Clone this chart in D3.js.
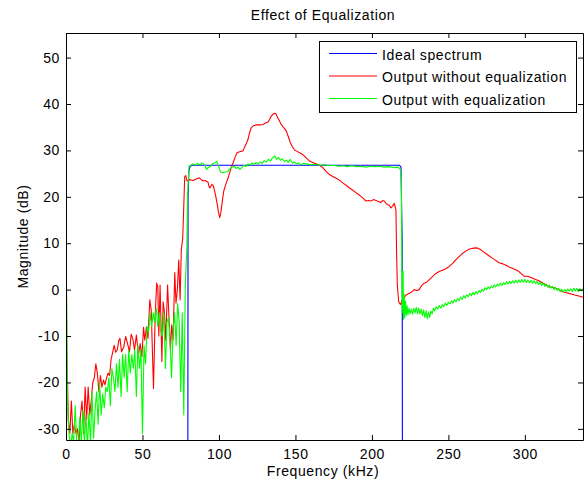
<!DOCTYPE html>
<html>
<head>
<meta charset="utf-8">
<script src="https://cdn.jsdelivr.net/npm/d3@7"></script>
<style>
  body { margin: 0; background: #fff; }
  text { font-family: "Liberation Sans", Arial, sans-serif; font-size: 14px; letter-spacing: 0.6px; fill: #000; }
</style>
</head>
<body>
<svg id="chart" width="584" height="485"></svg>
<script>
// axis setup
const xDomain = [0, 338];
const yDomain = [-32.4, 55.3];
const xTicks = [0, 50, 100, 150, 200, 250, 300];
const yTicks = [-30, -20, -10, 0, 10, 20, 30, 40, 50];

const seriesNames = ["Ideal spectrum", "Output without equalization", "Output with equalization"];
const seriesColors = ["#0000ff", "#ff0000", "#00ff00"];

// ideal: flat passband 80..220 kHz
const idealPts = [
  [0, -60], [79.6, -60], [79.8, 20], [80.3, 25.5], [81, 26.5], [82, 26.8],
  [218, 26.8], [219, 26.4], [219.8, 10], [220, -60], [338, -60]
];

// output without equalization
const redPts = [
  [0, 19.5], [0.5, -12], [1.5, -28], [2.5, -31], [3.5, -24], [4.5, -31], [5.5, -29], [6.5, -31],
  [7.5, -30], [8.5, -33], [9.5, -27], [10.5, -24], [11.5, -31], [12.5, -21], [13.5, -28], [14.5, -21],
  [15.5, -27], [16.5, -24], [17.5, -20], [18.5, -19], [19.5, -16], [20.5, -18], [21.5, -22], [22.5, -18.5],
  [23.5, -21], [24.5, -19.5], [25.5, -20.5], [26.5, -19], [27.5, -18], [28.5, -18.5], [29.5, -15], [30.5, -13.5],
  [31.5, -12], [32.5, -13.5], [33.5, -13], [34.5, -11], [35.3, -10.5], [36.3, -13.4], [37.8, -12.3], [39, -10.1],
  [40.2, -11.6], [41.5, -13.4], [42.6, -9.6], [43.7, -10.6], [44.8, -13], [46, -9.8], [47.4, -14.1], [48.5, -11.6],
  [49.6, -14.5], [50.7, -8.1], [51.5, -10.9], [52.6, -8], [53.6, -10.5], [54.8, -2.2], [55.7, -4.3], [57.2, -21.3],
  [58.3, -5.5], [59.3, 1.4], [60, 0.6], [60.7, -10], [61.5, 1], [62.7, -15.5], [63.5, -2.6], [64.3, -4.7],
  [65.2, -10.9], [66.4, 1], [67.4, -6.5], [68.3, -13], [69.1, -7.6], [70, -10.9], [71.1, 3.7], [71.9, -2.9],
  [72.8, 0], [73.7, 6.4], [74.6, -2.2], [75.4, 8.6], [76.3, 11], [77, 18], [77.6, 24.3], [78.3, 24.6],
  [79.1, 23.4], [80, 23.6], [81.3, 23.7], [83, 23.5], [85, 23.8], [87, 24.1], [88.5, 23.7], [89.6, 23.4],
  [91, 23.5], [92.8, 23.2], [93.5, 22.2], [94, 21.9], [95.5, 22.7], [96.3, 22.4], [97.2, 21.2], [98, 20],
  [98.7, 18.7], [99.6, 16.8], [100.5, 15.5], [101.2, 16.5], [101.8, 18], [102.5, 19.8], [103.1, 21.2], [104, 22.2],
  [104.8, 23], [106, 24.1], [107, 25.2], [108, 26.3], [109.2, 27.3], [110.5, 28.5], [111.8, 29.5], [113.5, 29.7],
  [115.7, 29.9], [117.5, 31.2], [119, 32.4], [120, 33.8], [121.1, 34.9], [122.5, 35.3], [124.4, 35.5], [126.5, 35.5],
  [128.7, 35.6], [130.5, 35.9], [132, 36.1], [133, 36.6], [134.2, 37.4], [135.3, 37.8], [136.4, 38], [137.2, 37.9],
  [137.9, 37.4], [139.3, 36.5], [140.7, 35.6], [142.3, 34.9], [144, 34.2], [145.3, 33], [146.6, 31.7], [148, 30.8],
  [149.4, 30.1], [150.5, 29.9], [152.7, 29.5], [154.8, 29.1], [157, 28.4], [159.2, 27.7], [161.3, 27.4], [163.5, 27.1],
  [165.7, 26.8], [167.9, 26.3], [170, 25.5], [172.2, 24.8], [174.4, 24.4], [176.6, 24], [178.8, 23.6], [180.9, 23],
  [183.1, 22.5], [185.3, 21.9], [187.5, 21.4], [189.6, 20.9], [191.3, 20.5], [192.9, 20.1], [194.5, 19.6], [196.1, 19.1],
  [197.8, 19.2], [199.4, 19.1], [201, 19.4], [202.7, 19.2], [204.3, 19], [205.9, 18.8], [207, 19.2], [208.1, 19.1],
  [209.2, 18.6], [210.3, 18.3], [211.4, 18.2], [212.4, 17.6], [213.5, 18], [214.6, 18.6], [215.2, 17.8], [215.7, 17.3],
  [216.1, 8.6], [216.6, 1], [217.5, -2.6], [218.6, -3.2], [220.1, -2.2], [222.2, -1.2], [224.4, -0.8], [226, -0.5],
  [227.6, 0], [229.3, -0.2], [230.9, 0], [232.5, 0.9], [234.2, 1.4], [235.8, 1.6], [237.4, 2.1], [239.6, 2.8],
  [241.8, 3.5], [244, 3.9], [246.1, 4.2], [248.3, 4.5], [250.5, 5], [252.6, 5.6], [254.8, 6.4], [257, 7.1],
  [259.2, 7.8], [261.3, 8.3], [263.5, 8.7], [265.7, 8.9], [267.9, 9], [269.5, 8.9], [271.1, 8.6], [272.8, 8.2],
  [274.4, 7.8], [276.5, 7.3], [278.7, 6.8], [280.9, 6.3], [283.1, 5.8], [285.3, 5.6], [287.4, 5.3], [289.6, 4.9],
  [291.8, 4.6], [294, 4.3], [296.1, 3.9], [297.8, 3.4], [299.4, 2.9], [301, 2.9], [302.6, 2.8], [304.8, 2.5],
  [307, 2.2], [309.2, 1.9], [311.3, 1.5], [313.5, 1.1], [315.7, 0.6], [317.8, 0.5], [320, 0.3], [322.2, 0],
  [324.4, -0.4], [326.5, -0.6], [328.7, -0.8], [330.9, -1], [333.1, -1.2], [334.7, -1.3], [336.3, -1.5], [338, -1.6]
];

// output with equalization
const greenPts = [
  [0, 8], [0.5, -5], [1, -25], [2, -31], [3, -34], [4, -31], [5, -33], [6, -25],
  [7, -33], [8, -34], [9, -27.5], [10, -33], [11, -26], [12, -33], [13, -27], [14, -34],
  [15, -26.5], [16, -33], [17, -22], [18, -32], [19, -26], [20, -22], [21, -29], [22, -20],
  [23, -27], [24, -22.5], [25, -25.5], [26, -21], [27, -22], [28, -19], [29, -25], [30, -17],
  [31, -19], [32, -22], [33, -16], [34, -21], [35, -15], [36, -23], [37, -14], [38, -19],
  [39, -14], [40, -22], [41, -13], [42, -18], [43, -14], [44, -17], [45, -13], [46, -23],
  [47, -12], [48, -17], [49, -13], [50, -31], [51, -12], [52, -16], [53, -8], [54, -9],
  [55, -5], [56, -8], [57, -5], [58, -7], [59, -4], [60, -8], [61, -5], [62, -9],
  [63, -10], [64, -5], [65, -17], [66, -7], [67, -6], [68, -11], [69, -19], [70, -9],
  [71, -5], [72, -12], [73, -3], [74, -7], [75, -22], [76, -5], [77, -27], [78, 1],
  [79, 9], [79.5, 20], [80.4, 26.6], [81.5, 26.8], [83, 27.1], [84.5, 26.8], [86, 27.2], [87.5, 26.9],
  [89, 27.3], [90.5, 26.9], [92, 25.9], [93, 26.3], [94.5, 26.6], [96, 27.2], [97.5, 27.4], [98.7, 27.6],
  [99.8, 26.5], [101, 25.4], [102.5, 25.2], [104, 25.3], [105.5, 25.4], [107, 25.9], [108.5, 26.4], [110, 26.6],
  [111.2, 26.1], [112.5, 26.4], [113.7, 25.9], [115, 26.3], [116.3, 26.8], [117.6, 26.5], [119, 27.1], [120.3, 26.8],
  [121.6, 27.3], [123, 27], [124.3, 27.4], [125.6, 27.1], [127, 27.5], [128.3, 27.2], [129.6, 27.8], [131, 27.5],
  [132.3, 28.1], [133.6, 27.7], [135, 28.4], [136.4, 28.8], [137.6, 28.1], [138.9, 28.5], [140.2, 27.9], [141.5, 28.2],
  [142.8, 27.6], [144, 27.9], [145.3, 27.4], [146.6, 28.1], [148, 27.3], [149.3, 27.5], [150.6, 27.1], [152, 27.3],
  [153.3, 26.9], [155, 27.2], [157, 27.1], [160, 26.9], [163, 27], [166, 26.8], [169, 26.9], [172, 26.7],
  [175, 26.8], [178, 26.6], [181, 26.7], [184, 26.5], [187, 26.7], [190, 26.5], [193, 26.6], [196, 26.4],
  [199, 26.6], [202, 26.5], [205, 26.6], [208, 26.4], [211, 26.5], [214, 26.3], [217, 26.4], [218.5, 26],
  [219.2, 24], [219.5, 10], [219.8, -5], [220.1, 0], [220.4, 4], [220.7, -6.5], [221.1, -1], [221.5, -6],
  [222, -2.5], [222.5, -5.5], [223, -3.5], [223.6, -5.5], [224.2, -4], [225, -5.2], [225.8, -4.2], [226.6, -5.3],
  [227.4, -4], [228.2, -5], [229, -3.8], [229.8, -5.2], [230.6, -4], [231.4, -5.3], [232.2, -4.2], [233, -5.6],
  [233.8, -4.4], [234.6, -6], [235.4, -4.5], [236.2, -6.3], [237, -4.8], [237.8, -6], [238.6, -4.6], [239.4, -5.2],
  [240.2, -4], [241, -4.6], [242, -3.7], [243, -4.2], [244, -3.4], [245, -4], [246, -3.2], [247, -3.7],
  [248, -2.9], [249, -3.4], [250, -2.7], [251, -3.1], [252, -2.4], [253, -2.9], [254, -2.2], [255, -2.6],
  [256, -1.9], [257, -2.4], [258, -1.6], [259, -2.1], [260, -1.3], [261, -1.8], [262, -1.1], [263, -1.5],
  [264, -0.8], [265, -1.3], [266, -0.6], [267, -1.1], [268, -0.4], [269, -0.9], [270, -0.2], [271, -0.6],
  [272, 0.1], [273, -0.3], [274, 0.4], [275, 0], [276, 0.6], [277, 0.2], [278, 0.8], [279, 0.4],
  [280, 1], [281, 0.6], [282, 1.2], [283, 0.8], [284, 1.4], [285, 0.9], [286, 1.5], [287, 1.1],
  [288, 1.7], [289, 1.2], [290, 1.8], [291, 1.3], [292, 1.9], [293, 1.4], [294, 2], [295, 1.5],
  [296, 2.1], [297, 1.6], [298, 2.2], [299, 1.6], [300, 2.2], [301, 1.5], [302, 2.1], [303, 1.5],
  [304, 2], [305, 1.4], [306, 1.9], [307, 1.3], [308, 1.8], [309, 1.1], [310, 1.6], [311, 0.9],
  [312, 1.4], [313, 0.7], [314, 1.2], [315, 0.5], [316, 1], [317, 0.3], [318, 0.7], [319, 0],
  [320, 0.5], [321, -0.2], [322, 0.3], [323, -0.4], [324, 0.1], [325, -0.5], [326, 0], [327, -0.4],
  [328, 0.1], [329, -0.3], [330, 0.2], [331, -0.4], [332, 0.3], [333, -0.3], [334, 0.3], [335, -0.4],
  [336, 0.2], [337, -0.3], [338, 0.2]
];

const allSeries = [idealPts, redPts, greenPts];

const svg = d3.select("#chart"),
      width = +svg.attr("width"),
      height = +svg.attr("height"),
      margin = { top: 33, right: 1, bottom: 45, left: 66 };

const x = d3.scaleLinear()
  .domain(xDomain)
  .range([margin.left, width - margin.right]);

const y = d3.scaleLinear()
  .domain(yDomain)
  .range([height - margin.bottom, margin.top]);

//clip lines to the axes box
svg.append("clipPath")
  .attr("id", "plotclip")
  .append("rect")
  .attr("x", x.range()[0])
  .attr("y", y.range()[1])
  .attr("width", x.range()[1] - x.range()[0])
  .attr("height", y.range()[0] - y.range()[1]);

const line = d3.line()
  .x(d => x(d[0]))
  .y(d => y(d[1]));

svg.append("g")
  .attr("clip-path", "url(#plotclip)")
  .selectAll("path")
  .data(allSeries)
  .join("path")
  .attr("fill", "none")
  .attr("stroke", (d, i) => seriesColors[i])
  .attr("stroke-width", 1.1)
  .attr("stroke-linejoin", "round")
  .attr("d", line);

//axes, ticks pointing inward on all four sides
const tickLen = 5;
const bottomY = y.range()[0], topY = y.range()[1];
const plainFmt = d => String(d); // matlab uses a plain hyphen for minus

svg.append("g")
  .attr("transform", `translate(0,${bottomY})`)
  .call(d3.axisBottom(x).tickValues(xTicks).tickFormat(plainFmt).tickSizeInner(-tickLen).tickSizeOuter(0).tickPadding(9));

svg.append("g")
  .attr("transform", `translate(0,${topY})`)
  .call(d3.axisTop(x).tickValues(xTicks).tickSizeInner(-tickLen).tickSizeOuter(0).tickFormat(""));

svg.append("g")
  .attr("transform", `translate(${x.range()[0]},0)`)
  .call(d3.axisLeft(y).tickValues(yTicks).tickFormat(plainFmt).tickSizeInner(-tickLen).tickSizeOuter(0).tickPadding(6));

svg.append("g")
  .attr("transform", `translate(${x.range()[1]},0)`)
  .call(d3.axisRight(y).tickValues(yTicks).tickSizeInner(-tickLen).tickSizeOuter(0).tickFormat(""));

svg.selectAll(".domain").attr("stroke", "#000").attr("stroke-width", 1);
svg.selectAll(".tick line").attr("stroke", "#000");
svg.selectAll(".tick text").attr("fill", "#000");

//title and axis labels
svg.append("text")
  .attr("x", 323)
  .attr("y", 20)
  .attr("text-anchor", "middle")
  .text("Effect of Equalization");

svg.append("text")
  .attr("x", 323)
  .attr("y", 476)
  .attr("text-anchor", "middle")
  .text("Frequency (kHz)");

svg.append("text")
  .attr("transform", `translate(28,${(topY + bottomY) / 2}) rotate(-90)`)
  .attr("text-anchor", "middle")
  .text("Magnitude (dB)");

//legend
const legend = svg.append("g");
legend.append("rect")
  .attr("x", 319.5)
  .attr("y", 41.5)
  .attr("width", 257)
  .attr("height", 71)
  .attr("fill", "#fff")
  .attr("stroke", "#000");

seriesNames.forEach((name, i) => {
  const ly = 53.5 + i * 22.5;
  legend.append("line")
    .attr("x1", 329).attr("x2", 377)
    .attr("y1", ly).attr("y2", ly)
    .attr("stroke", seriesColors[i])
    .attr("stroke-width", 1.2);
  legend.append("text")
    .attr("x", 382)
    .attr("y", ly + 6)
    .text(name);
});
</script>
</body>
</html>
